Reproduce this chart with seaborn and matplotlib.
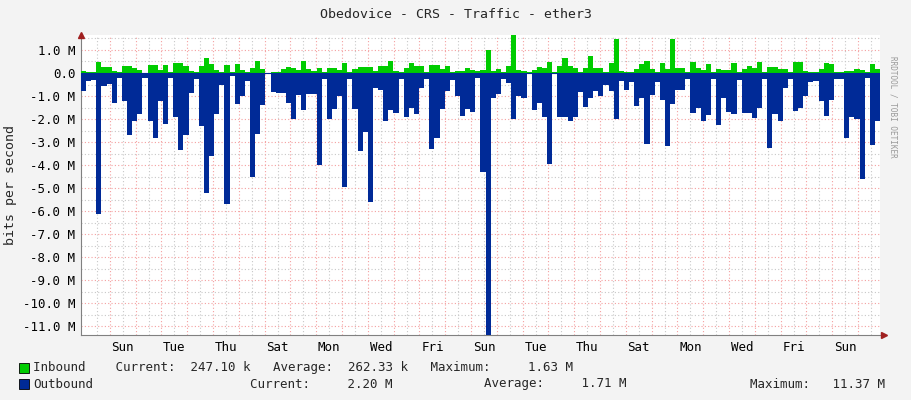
import numpy as np
import matplotlib.pyplot as plt
import seaborn as sns

# traffic samples (~4.8 h each), Mbit/s
inbound = [0.1, 0.04, 0.04, 0.48, 0.25, 0.27, 0.07, 0.05, 0.31, 0.29, 0.22, 0.15, 0.01, 0.35, 0.33, 0.15,
           0.33, 0.04, 0.44, 0.42, 0.29, 0.08, 0.04, 0.29, 0.64, 0.4, 0.15, 0.04, 0.35, 0.04, 0.4, 0.15,
           0.04, 0.23, 0.52, 0.18, 0.01, 0.05, 0.04,
           0.18, 0.25, 0.2, 0.15, 0.5, 0.18, 0.08, 0.22, 0.04, 0.22, 0.22, 0.15, 0.42, 0.04, 0.18, 0.26,
           0.26, 0.26, 0.08, 0.31, 0.31, 0.5, 0.1, 0.04, 0.22, 0.42, 0.31, 0.31, 0.04, 0.35, 0.35, 0.18,
           0.31, 0.04, 0.1, 0.1, 0.22, 0.12, 0.1,
           0.15, 1.0, 0.1, 0.19, 0.04, 0.31, 1.63, 0.15, 0.1, 0.04, 0.15, 0.26, 0.2, 0.48, 0.04, 0.31,
           0.64, 0.31, 0.23, 0.04, 0.22, 0.72, 0.22, 0.22, 0.04, 0.42, 1.46, 0.1, 0.04, 0.04, 0.18, 0.38,
           0.52, 0.18, 0.04, 0.42, 0.19, 1.46, 0.22,
           0.22, 0.04, 0.48, 0.22, 0.15, 0.4, 0.04, 0.19, 0.15, 0.12, 0.42, 0.04, 0.19, 0.31, 0.23, 0.48,
           0.04, 0.27, 0.27, 0.18, 0.19, 0.04, 0.48, 0.48, 0.1, 0.04, 0.04, 0.19, 0.44, 0.41, 0.04, 0.04,
           0.1, 0.1, 0.18, 0.14, 0.04, 0.4, 0.19]
outbound = [0.8, 0.33, 0.3, 6.1, 0.56, 0.46, 1.3, 0.23, 1.2, 2.7, 2.1, 1.8, 0.2, 2.1, 2.8, 1.2,
            2.2, 0.2, 1.9, 3.35, 2.7, 0.87, 0.26, 2.3, 5.2, 3.6, 1.8, 0.53, 5.7, 0.12, 1.35, 1.0,
            0.33, 4.5, 2.65, 1.4, 0.02, 0.83, 0.87,
            0.87, 1.3, 2.0, 0.94, 1.6, 0.9, 0.9, 4.0, 0.26, 2.0, 1.55, 0.98, 4.95, 0.26, 1.55, 3.4,
            2.55, 5.6, 0.67, 0.73, 2.07, 1.6, 1.75, 0.26, 1.9, 1.5, 1.8, 0.63, 0.26, 3.3, 2.8, 1.55,
            0.76, 0.3, 0.98, 1.86, 1.55, 1.7, 0.23,
            4.3, 11.37, 1.1, 0.9, 0.26, 0.43, 2.0, 1.0, 1.1, 0.05, 1.6, 1.28, 1.9, 3.96, 0.02, 1.9,
            1.9, 2.1, 1.93, 0.83, 1.48, 1.1, 0.8, 0.98, 0.53, 0.76, 2.0, 0.35, 0.73, 0.37, 1.45, 1.1,
            3.07, 0.94, 0.37, 1.18, 3.18, 1.35, 0.73,
            0.73, 0.26, 1.75, 1.5, 2.08, 1.84, 0.26, 2.27, 1.07, 1.7, 1.8, 0.3, 1.75, 1.73, 1.95, 1.5,
            0.26, 3.25, 1.8, 2.08, 0.63, 0.26, 1.66, 1.5, 1.0, 0.4, 0.33, 1.2, 1.86, 1.18, 0.26, 0.26,
            2.84, 1.9, 2.0, 4.6, 0.2, 3.14, 2.08]
day_labels = ["Sun", "Tue", "Thu", "Sat", "Mon", "Wed", "Fri", "Sun",
              "Tue", "Thu", "Sat", "Mon", "Wed", "Fri", "Sun"]
y_ticks = list(range(1, -12, -1))
total_days = 30.97
first_midnight = 1.12

sns.set_style("white")
plt.rcParams['font.family'] = ['DejaVu Sans Mono']

fig = plt.figure(figsize=(9.11, 4.0), dpi=100, facecolor="#f3f3f3")
ax = fig.add_axes([81/911, 65/400, 799/911, 300/400])
ax.set_facecolor("white")

n = len(inbound)
x = np.arange(n + 1) * total_days / n
inb = np.append(inbound, inbound[-1])
outb = -np.append(outbound, outbound[-1])
ax.fill_between(x, 0, inb, step="post", color="#00cc00", lw=0, zorder=3)
ax.fill_between(x, 0, outb, step="post", color="#002a97", lw=0, zorder=3)
ax.plot([0, total_days], [0, 0], color="#002a97", lw=0.8, zorder=4)

ax.set_xlim(0, total_days)
ax.set_ylim(-11.37, 1.65)

# grid
mids = np.arange(first_midnight, total_days, 1.0)
halfs = np.arange(first_midnight - 0.5, total_days, 1.0)
for h in halfs:
    if h > 0:
        ax.axvline(h, color="#c8c8c8", lw=0.8, ls=(0, (1, 2)), zorder=1)
for m in mids:
    ax.axvline(m, color="#f4a0a0", lw=0.8, ls=(0, (1, 2)), zorder=2)
for v in np.arange(-11.0, 1.6, 0.5):
    major = abs(v - round(v)) < 1e-6
    ax.axhline(v, color="#f4a0a0" if major else "#c8c8c8", lw=0.8, ls=(0, (1, 2)), zorder=1 if not major else 2)

ax.set_yticks(y_ticks)
ax.set_yticklabels(["0.0" if t == 0 else f"{t:.1f} M" for t in y_ticks])
ax.set_xticks(mids[:len(day_labels) * 2:2] + 0.5)
ax.set_xticklabels(day_labels)
ax.tick_params(labelsize=9, length=0, pad=4, colors="#000000")
for s in ["top", "right"]:
    ax.spines[s].set_visible(False)
for s in ["left", "bottom"]:
    ax.spines[s].set_color("#808080")
ax.plot([0], [1.65], marker="^", color="#a02020", ms=4, clip_on=False, zorder=6)
ax.plot([total_days + 0.15], [-11.37], marker=">", color="#a02020", ms=4, clip_on=False, zorder=6)
ax.set_ylabel("bits per second", fontsize=9.5)

fig.text(0.5, 1 - 14/400, "Obedovice - CRS - Traffic - ether3", ha="center", va="center", fontsize=9.5)
fig.text(893/911, 0.86, "RRDTOOL / TOBI OETIKER", rotation=270, ha="center", va="top", fontsize=5.5, color="#999999")

fs = 9
fig.patches.append(plt.Rectangle((19/911, 1 - 373/400), 10/911, 10/400, transform=fig.transFigure,
                                 facecolor="#00cc00", edgecolor="black", lw=0.6))
fig.patches.append(plt.Rectangle((19/911, 1 - 389/400), 10/911, 10/400, transform=fig.transFigure,
                                 facecolor="#002a97", edgecolor="black", lw=0.6))
fig.text(33/911, 1 - 368/400, "Inbound    Current:  247.10 k   Average:  262.33 k   Maximum:     1.63 M",
         va="center", fontsize=fs)
fig.text(33/911, 1 - 384/400, "Outbound", va="center", fontsize=fs)
fig.text(250/911, 1 - 384/400, "Current:     2.20 M", va="center", fontsize=fs)
fig.text(484/911, 1 - 384/400, "Average:     1.71 M", va="center", fontsize=fs)
fig.text(750/911, 1 - 384/400, "Maximum:   11.37 M", va="center", fontsize=fs)

plt.savefig("out.png", dpi=100, facecolor=fig.get_facecolor())
